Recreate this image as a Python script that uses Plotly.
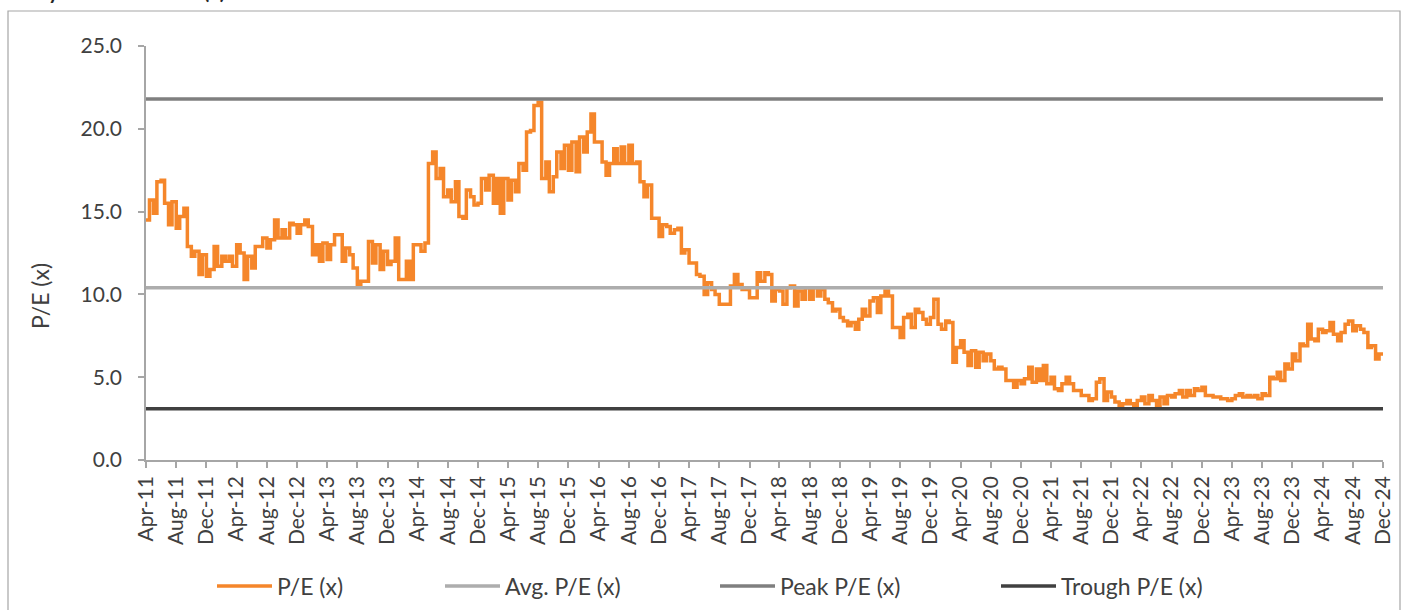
import pandas as pd
import plotly.graph_objects as go

# Semi-monthly P/E readings, starting Apr-2011 (1st & 15th of each month)
pe_values = [
    14.5, 15.7, 14.9, 16.8, 16.9, 15.5, 14.2, 15.6, 14.0, 14.7, 15.2, 12.9,
    12.3, 12.6, 11.2, 12.4, 11.1, 11.5, 12.9, 11.7, 12.3, 12.0, 12.3, 11.7,
    13.0, 12.5, 10.9, 12.3, 11.6, 12.9, 12.9, 13.4, 12.8, 13.3, 14.5, 13.4,
    13.9, 13.4, 14.3, 14.2, 13.7, 14.2, 14.5, 14.1, 12.4, 13.0, 12.0, 13.1,
    12.1, 13.0, 13.6, 13.6, 12.0, 12.8, 12.4, 11.6, 10.6, 10.8, 10.8, 13.2,
    11.9, 13.0, 11.5, 12.6, 11.8, 12.0, 13.4, 10.9, 10.9, 12.0, 10.9, 13.0,
    13.0, 12.6, 13.1, 17.9, 18.6, 17.0, 17.6, 15.9, 16.3, 15.6, 16.8, 14.7,
    14.6, 16.3, 15.9, 15.4, 15.5, 17.0, 16.3, 17.2, 15.5, 17.0, 14.9, 17.0,
    15.7, 16.9, 16.2, 17.9, 17.5, 19.8, 19.9, 21.4, 21.6, 17.0, 18.0, 16.2,
    17.1, 18.6, 17.6, 19.0, 17.5, 19.2, 17.4, 19.5, 18.6, 19.8, 20.9, 19.2,
    19.2, 18.0, 17.2, 17.9, 18.8, 17.9, 18.9, 17.9, 19.0, 17.9, 18.0, 16.8,
    15.9, 16.6, 14.6, 14.6, 13.5, 14.2, 14.1, 13.7, 13.9, 14.0, 12.5, 12.7,
    11.9, 11.9, 11.2, 11.1, 10.0, 10.7, 10.3, 10.0, 9.4, 9.4, 9.4, 10.5,
    11.2, 10.6, 10.3, 10.3, 9.8, 9.8, 11.3, 10.8, 11.3, 11.2, 9.6, 10.3,
    10.2, 9.4, 10.4, 10.5, 9.3, 10.2, 9.7, 10.4, 9.7, 10.4, 9.9, 10.3,
    9.7, 9.5, 9.0, 9.1, 8.6, 8.4, 8.1, 8.3, 7.9, 8.5, 9.1, 8.7,
    9.6, 9.8, 8.9, 9.9, 10.2, 9.9, 8.0, 8.0, 7.4, 8.6, 8.8, 8.0,
    9.1, 8.9, 8.5, 8.2, 8.6, 9.7, 8.2, 7.9, 8.4, 8.3, 5.9, 6.8,
    7.2, 6.5, 5.7, 6.6, 5.6, 6.5, 6.0, 6.4, 6.0, 5.5, 5.6, 5.5,
    4.8, 4.8, 4.4, 4.8, 4.6, 4.9, 5.6, 4.7, 5.5, 4.8, 5.7, 4.6,
    5.0, 4.3, 4.2, 4.6, 5.0, 4.6, 4.2, 4.2, 3.9, 3.9, 3.6, 3.7,
    4.7, 4.9, 3.6, 4.1, 3.8, 3.5, 3.2, 3.4, 3.6, 3.4, 3.2, 3.6,
    3.8, 3.4, 3.9, 3.6, 3.2, 3.8, 3.4, 3.9, 3.8, 4.0, 4.2, 3.8,
    4.2, 3.9, 4.3, 4.2, 4.4, 3.9, 3.9, 3.8, 3.8, 3.7, 3.7, 3.6,
    3.7, 3.9, 4.0, 3.8, 3.9, 3.8, 3.9, 3.7, 4.0, 3.9, 5.0, 4.9,
    5.3, 4.8, 5.8, 5.5, 6.4, 6.0, 7.0, 6.9, 8.2, 7.3, 7.2, 7.9,
    7.7, 7.8, 8.3, 7.6, 7.2, 7.7, 8.2, 8.4, 7.8, 8.1, 7.9, 7.7,
    6.8, 6.9, 6.1, 6.4, 6.3,
]
start_date = "2011-04-01"
end_date = "2024-12-01"
avg_pe = 10.4
peak_pe = 21.8
trough_pe = 3.1
series_names = ["P/E (x)", "Avg. P/E (x)", "Peak P/E (x)", "Trough P/E (x)"]
series_colors = ["#F5862A", "#ADADAD", "#7F7F7F", "#404040"]
y_title = "P/E (x)"
title_text = "One year forward P/E (x) band"

dates = pd.date_range(start_date, periods=len(pe_values), freq="SMS")
tick_dates = pd.date_range(start_date, end_date, freq="4MS")
tick_text = [d.strftime("%b-%y") for d in tick_dates]

FONT = "Lato, Calibri, Carlito, sans-serif"
TXT = "#404040"

fig = go.Figure()
fig.add_trace(go.Scatter(
    x=dates, y=pe_values, mode="lines", name=series_names[0],
    line=dict(color=series_colors[0], width=3.5, shape="hv"), legend="legend"))
for name, val, col, lg, w in [
    (series_names[1], avg_pe, series_colors[1], "legend2", 3.5),
    (series_names[2], peak_pe, series_colors[2], "legend3", 3.5),
    (series_names[3], trough_pe, series_colors[3], "legend4", 3.5),
]:
    fig.add_trace(go.Scatter(
        x=[dates[0], dates[-1]], y=[val, val], mode="lines", name=name,
        line=dict(color=col, width=w), legend=lg))

W, H = 1405, 610
L, R, T, B = 146, 22, 46, 150
pw, ph = W - L - R, H - T - B


def px_x(p):
    return (p - L) / pw


def px_y(p):
    return (H - B - p) / ph


leg_common = dict(orientation="h", yanchor="middle", xanchor="left",
                  xref="container", yref="container",
                  y=(H - 586) / H, font=dict(family=FONT, size=23, color=TXT),
                  itemwidth=55, bgcolor="rgba(0,0,0,0)", tracegroupgap=0,
                  itemclick=False, itemdoubleclick=False)

fig.update_layout(
    width=W, height=H,
    margin=dict(l=L, r=R, t=T, b=B, autoexpand=False),
    paper_bgcolor="white", plot_bgcolor="white",
    font=dict(family=FONT, size=21, color=TXT),
    showlegend=True,
    legend=dict(x=212 / W, **leg_common),
    legend2=dict(x=440 / W, **leg_common),
    legend3=dict(x=715 / W, **leg_common),
    legend4=dict(x=996 / W, **leg_common),
    xaxis=dict(
        type="date", range=[dates[0], dates[-1]], automargin=False,
        tickvals=tick_dates, ticktext=tick_text, tickangle=-90,
        showgrid=False, zeroline=False,
        showline=True, linecolor="#A6A6A6", linewidth=1.5,
        ticks="outside", ticklen=6, tickcolor="#A6A6A6", tickwidth=1.5,
        tickfont=dict(family=FONT, size=21, color=TXT),
    ),
    yaxis=dict(
        range=[0, 25], tickvals=[0, 5, 10, 15, 20, 25], tickformat=".1f",
        automargin=False,
        showgrid=False, zeroline=False,
        showline=True, linecolor="#A6A6A6", linewidth=1.5,
        ticks="outside", ticklen=6, tickcolor="#A6A6A6", tickwidth=1.5,
        ticklabelstandoff=12,
        tickfont=dict(family=FONT, size=21, color=TXT),
    ),
    shapes=[dict(type="rect", xref="paper", yref="paper",
                 x0=px_x(8), x1=px_x(1400), y0=px_y(640), y1=px_y(11),
                 line=dict(color="#A6A6A6", width=1.2), layer="below")],
    annotations=[
        dict(text="<b>" + title_text + "</b>", xref="paper", yref="paper",
             x=px_x(4), y=px_y(5), xanchor="left", yanchor="bottom",
             showarrow=False, font=dict(family=FONT, size=20, color="#262626")),
        dict(text=y_title, xref="paper", yref="paper", textangle=-90,
             x=px_x(40), y=px_y(296), xanchor="center", yanchor="middle",
             showarrow=False, font=dict(family=FONT, size=23, color=TXT)),
    ],
)

fig.write_html("out.html", config={"displayModeBar": False},
               post_script="document.body.style.margin='0';document.body.style.overflow='hidden';")
